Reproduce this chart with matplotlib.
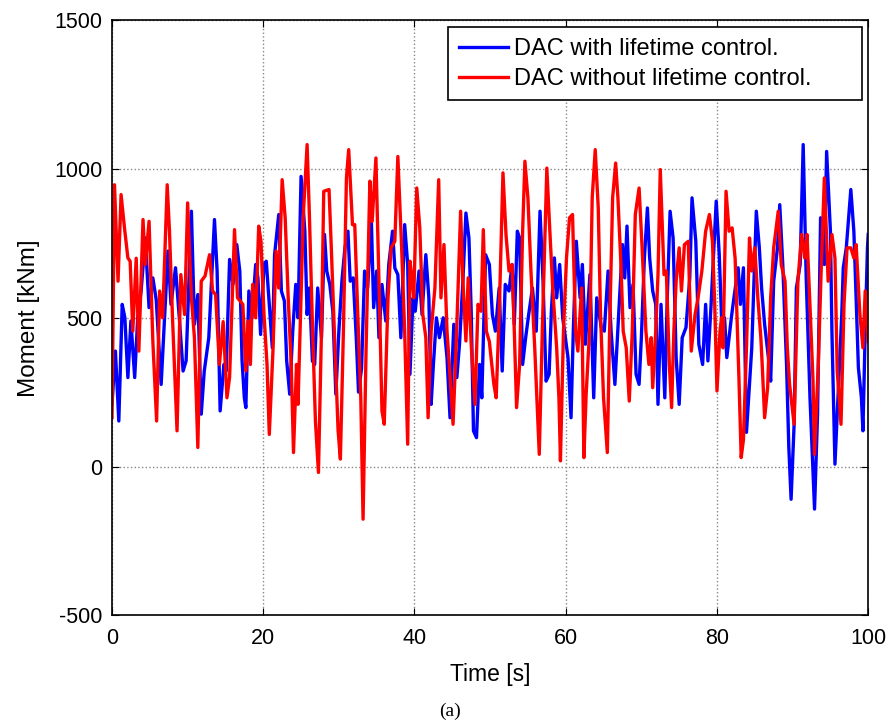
import numpy as np
import matplotlib.pyplot as plt

# DAC with lifetime control (blue): (time [s], moment [kNm])
t_with = [0, 0.45, 0.9, 1.35, 1.7, 2.1, 2.5, 3.0, 3.4, 3.85, 4.4, 4.9, 5.4, 5.85, 6.5, 6.95,
          7.4, 7.8, 8.4, 8.9, 9.4, 9.8, 10.5, 10.9, 11.35, 11.8, 12.2, 12.8, 13.55, 13.9, 14.3,
          14.8, 15.1, 15.55, 16.0, 16.5, 16.9, 17.2, 17.5, 17.7, 18.1, 18.5, 19.0, 19.3, 19.65,
          20.1, 20.4, 20.8, 21.2, 21.5, 22.05, 22.4, 22.8, 23.1, 23.5, 23.9, 24.3, 24.6, 25.0,
          25.5, 25.8, 26.1, 26.5, 26.8, 27.2, 27.7, 28.1, 28.4, 28.8, 29.2, 29.6, 30.0, 30.4,
          30.8, 31.2, 31.5, 31.9, 32.3, 32.6, 33.0, 33.4, 33.8, 34.3, 34.6, 35.0, 35.3, 35.7,
          36.2, 36.6, 37.1, 37.4, 37.8, 38.2, 38.7, 39.1, 39.4, 39.8, 40.1, 40.6, 41.0, 41.5,
          41.9, 42.2, 42.5, 42.9, 43.3, 43.8, 44.3, 44.7, 45.2, 45.6, 45.95, 46.4, 46.8, 47.2,
          47.5, 47.8, 48.2, 48.6, 48.9, 49.4, 49.9, 50.3, 50.7, 51.2, 51.6, 52.0, 52.5, 52.9,
          53.2, 53.6, 53.9, 54.3, 54.7, 55.1, 55.6, 56.1, 56.6, 57.0, 57.4, 57.8, 58.1, 58.5,
          58.8, 59.2, 59.6, 60.3, 60.7, 61.0, 61.4, 61.9, 62.2, 62.6, 63.2, 63.7, 64.1, 64.7,
          65.1, 65.6, 66.0, 66.5, 67.0, 67.5, 67.8, 68.1, 68.5, 68.9, 69.3, 69.7, 70.0, 70.4,
          70.8, 71.1, 71.5, 71.9, 72.2, 72.6, 73.1, 73.4, 73.8, 74.2, 74.6, 75.0, 75.4, 75.9,
          76.4, 76.7, 77.2, 77.6, 78.1, 78.5, 78.8, 79.2, 79.9, 80.3, 80.7, 81.0, 81.3, 81.9,
          82.3, 82.8, 83.1, 83.5, 83.9, 84.6, 85.2, 85.6, 85.9, 86.3, 86.8, 87.1, 87.5, 88.0,
          88.3, 88.7, 89.2, 89.5, 89.8, 90.2, 90.5, 91.0, 91.4, 91.8, 92.3, 92.7, 92.9, 93.3,
          93.7, 94.2, 94.5, 95.0, 95.2, 95.6, 96.0, 96.5, 96.7, 97.1, 97.7, 98.1, 98.4, 98.7,
          99.1, 99.3, 99.6, 99.9, 100]
m_with = [209, 388, 153, 545, 500, 299, 489, 299, 500, 590, 768, 534, 634, 560, 276, 500,
          724, 545, 668, 500, 321, 355, 858, 478, 578, 176, 321, 433, 830, 657, 187,
          343, 321, 696, 612, 746, 657, 355, 231, 198, 590, 500, 679, 634, 444,
          679, 690, 545, 399, 712, 847, 590, 556, 355, 243, 455, 612, 500, 975,
          791, 511, 600, 355, 343, 600, 433, 780, 657, 612, 522, 243, 455, 623,
          735, 791, 623, 634, 433, 250, 330, 657, 600, 824, 534, 657, 433, 612,
          489, 679, 791, 667, 645, 433, 813, 679, 310, 567, 522, 657, 511, 712,
          567, 209, 343, 500, 433, 500, 366, 164, 478, 299, 411, 623, 852, 768,
          522, 120, 97, 343, 231, 712, 679, 511, 455, 600, 321, 612, 590, 679,
          478, 791, 768, 343, 433, 511, 600, 455, 858, 623, 287, 310, 522, 701,
          567, 679, 500, 366, 164, 455, 757, 567, 679, 411, 645, 231, 567, 467,
          455, 657, 455, 276, 511, 746, 634, 808, 534, 612, 310, 276, 433, 701,
          869, 701, 590, 545, 209, 545, 231, 545, 858, 768, 366, 209, 433, 467,
          634, 903, 757, 411, 343, 545, 355, 534, 892, 712, 433, 500, 366, 500,
          578, 668, 545, 668, 115, 399, 858, 735, 600, 478, 366, 287, 623, 735,
          880, 679, 343, 64, -110, 142, 600, 679, 1082, 634, 231, -15, -143, 176,
          836, 679, 1059, 791, 455, 8, 231, 511, 668, 735, 931, 791, 567, 332,
          231, 120, 455, 735, 780]

# DAC without lifetime control (red)
t_without = [0, 0.33, 0.8, 1.2, 1.65, 2.1, 2.4, 2.75, 3.2, 3.55, 4.1, 4.4, 4.9, 5.4, 5.9, 6.3,
             6.7, 7.3, 7.6, 8.0, 8.6, 9.1, 9.6, 10.0, 10.5, 10.9, 11.35, 11.8, 12.3, 12.9,
             13.3, 13.7, 14.2, 14.7, 15.2, 15.55, 16.2, 16.6, 17.3, 17.7, 18.0, 18.3, 18.6,
             19.0, 19.4, 19.7, 20.1, 20.5, 20.8, 21.3, 21.7, 22.05, 22.5, 22.9, 23.3, 23.7,
             24.0, 24.4, 24.6, 25.0, 25.3, 25.8, 26.1, 26.5, 26.9, 27.3, 27.7, 28.0, 28.7,
             29.0, 29.4, 29.9, 30.2, 30.6, 31.0, 31.3, 31.8, 32.1, 32.5, 32.9, 33.2, 33.6,
             34.1, 34.4, 34.9, 35.3, 35.7, 36.0, 36.5, 36.9, 37.4, 37.8, 38.3, 38.7, 39.1,
             39.4, 39.7, 39.9, 40.3, 40.7, 41.1, 41.5, 41.8, 42.2, 42.7, 43.2, 43.5, 43.9,
             44.3, 44.6, 45.1, 45.5, 46.1, 46.4, 46.8, 47.1, 47.5, 48.0, 48.4, 48.8, 49.1,
             49.5, 49.9, 50.5, 50.8, 51.2, 51.7, 52.1, 52.5, 52.9, 53.2, 53.5, 53.9, 54.3,
             54.6, 55.0, 55.4, 55.9, 56.5, 56.9, 57.2, 57.5, 57.9, 58.3, 58.8, 59.1, 59.3,
             59.7, 60.1, 60.5, 60.9, 61.3, 61.6, 62.1, 62.4, 62.7, 63.2, 63.5, 63.9, 64.3,
             64.6, 65.0, 65.5, 65.8, 66.2, 66.6, 66.9, 67.3, 67.6, 68.0, 68.4, 68.8, 69.2,
             69.7, 70.1, 70.6, 71.0, 71.3, 71.5, 71.9, 72.2, 72.5, 73.0, 73.3, 73.7, 74.0,
             74.3, 74.6, 75.0, 75.3, 75.7, 76.2, 76.6, 77.1, 77.5, 78.0, 78.5, 79.0, 79.4,
             79.7, 80.0, 80.4, 80.6, 80.8, 81.2, 81.6, 82.0, 82.4, 82.9, 83.2, 83.5, 83.9,
             84.3, 84.6, 85.0, 85.4, 85.8, 86.0, 86.3, 86.7, 87.1, 87.5, 88.1, 88.5, 89.0,
             89.3, 89.6, 90.2, 90.7, 91.2, 91.6, 91.9, 92.4, 92.7, 92.9, 93.4, 93.8, 94.2,
             94.7, 95.2, 95.6, 95.9, 96.4, 96.8, 97.2, 97.7, 98.1, 98.4, 98.9, 99.3, 99.6, 100]
m_without = [165, 947, 623, 914, 802, 701, 690, 455, 700, 388, 830, 679, 824, 422, 153, 590,
             500, 947, 791, 500, 120, 645, 511, 886, 567, 433, 64, 623, 640, 712,
             590, 578, 343, 487, 231, 300, 796, 567, 545, 321, 489, 343, 612,
             500, 808, 757, 511, 343, 108, 399, 724, 600, 964, 836, 567, 343,
             47, 343, 209, 567, 847, 1082, 847, 478, 153, -20, 455, 925, 931,
             735, 455, 120, 25, 455, 970, 1065, 813, 813, 511, 231, -177, 399,
             959, 824, 1037, 623, 187, 142, 567, 735, 757, 1042, 735, 455, 75,
             690, 623, 567, 936, 802, 511, 433, 164, 455, 600, 964, 567, 746,
             455, 343, 142, 399, 858, 623, 422, 634, 411, 209, 545, 522, 796,
             455, 420, 276, 231, 511, 987, 780, 657, 679, 455, 198, 343, 791,
             1026, 903, 657, 399, 41, 455, 735, 1003, 791, 590, 399, 231, 19,
             455, 701, 836, 847, 455, 388, 600, 30, 243, 478, 903, 1065, 869,
             511, 231, 47, 455, 903, 1020, 903, 679, 455, 399, 220, 455, 847,
             936, 735, 455, 343, 433, 265, 455, 645, 998, 645, 657, 343, 198,
             455, 623, 735, 590, 746, 757, 388, 511, 567, 657, 791, 847, 757,
             545, 254, 455, 500, 399, 925, 791, 802, 700, 300, 30, 90, 400,
             768, 657, 735, 567, 433, 332, 164, 265, 567, 735, 858, 679, 623,
             399, 276, 142, 623, 780, 701, 780, 478, 287, 41, 343, 679, 970,
             623, 780, 701, 321, 142, 545, 735, 735, 701, 746, 511, 399, 590, 420]

plt.rcParams['font.family'] = ['Liberation Sans', 'DejaVu Sans']
plt.rcParams['axes.unicode_minus'] = False

fig = plt.figure(figsize=(8.96, 7.23), dpi=100)
ax = fig.add_axes([0.125, 0.149, 0.844, 0.823])

ax.plot(t_with, m_with, color='#0000ff', linewidth=2.4, label='DAC with lifetime control.')
ax.plot(t_without, m_without, color='#ff0000', linewidth=2.4, label='DAC without lifetime control.')

ax.set_xlim(0, 100)
ax.set_ylim(-500, 1500)
ax.set_xticks(np.arange(0, 101, 20))
ax.set_yticks(np.arange(-500, 1501, 500))
ax.tick_params(direction='in', top=True, right=True, length=5, labelsize=15.5)
ax.tick_params(axis='x', pad=9)
ax.tick_params(axis='y', pad=7)
ax.grid(True, linestyle=':', color='#888888', linewidth=1)
for s in ax.spines.values():
    s.set_linewidth(1.2)

ax.set_xlabel('Time [s]', fontsize=16.5, labelpad=10)
ax.set_ylabel('Moment [kNm]', fontsize=17.5, labelpad=10)

# legend box stretched to the width seen in the picture
leg = ax.legend(loc='upper right', bbox_to_anchor=(0.4444, 0.8, 0.5476, 0.188),
                mode='expand', fontsize=17, fancybox=False, framealpha=1,
                edgecolor='black', handlelength=2.1, borderaxespad=0,
                labelspacing=0.33, borderpad=0.45, handletextpad=0.25)
leg.get_frame().set_linewidth(1.2)

fig.text(0.502, 0.016, '(a)', ha='center', va='center', fontsize=14,
         family='Liberation Serif')

fig.savefig('out.png', dpi=100)
